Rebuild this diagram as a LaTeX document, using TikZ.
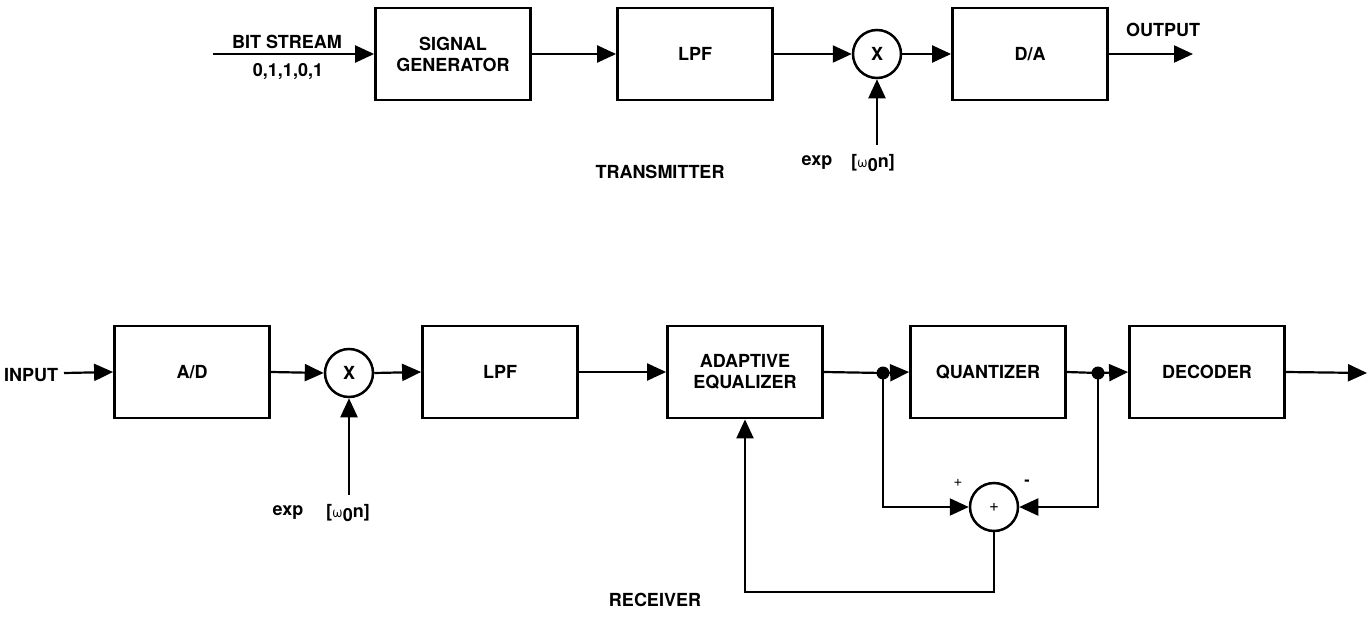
\documentclass[tikz,border=0pt]{standalone}
\usepackage{fontspec}
\setmainfont{TeX Gyre Heros}
\usetikzlibrary{arrows.meta}
\begin{document}
\begin{tikzpicture}[x=1pt,y=-1pt,
  txt/.style={font=\bfseries\fontsize{18}{21}\selectfont},
  blk/.style={draw, line width=2.8pt, minimum width=155pt, minimum height=92pt, inner sep=0pt, txt, align=center},
  mix/.style={draw, circle, line width=2.5pt, minimum size=48pt, inner sep=0pt, txt},
  lbl/.style={txt, inner sep=0pt},
  conn/.style={line width=2.2pt},
  arr/.style={conn, -{Triangle[length=19pt,width=17pt]}},
  dot/.style={circle, fill, minimum size=13pt, inner sep=0pt}]
\fill[white] (0,0) rectangle (1371,618);
\useasboundingbox (0,0) rectangle (1371,618);
% ---------- transmitter ----------
\coordinate (bsin) at (213,54);
\node[blk] (sg) at (453,54) {SIGNAL\\GENERATOR};
\node[blk] (lpft) at (695,54) {LPF};
\node[mix] (mxt) at (877,54) {X};
\node[blk] (da) at (1030,54) {D/A};
\coordinate (outt) at (1193,54);
\coordinate (lot) at (877,145);
\draw[arr] (bsin) -- (sg.west);
\draw[arr] (sg.east) -- (lpft.west);
\draw[arr] (lpft.east) -- (mxt.west);
\draw[arr] (mxt.east) -- (da.west);
\draw[arr] (da.east) -- (outt);
\draw[arr] (lot) -- (mxt.south);
\node[lbl] (bst) at (287,42) {BIT STREAM};
\node[lbl] (bsv) at (288,72) {0,1,1,0,1};
\node[lbl] (outlbl) at (1163,30) {OUTPUT};
\node[lbl] (tx) at (660,172) {TRANSMITTER};
\node[lbl] (expt) at (817,163) {exp};
\node[lbl] (wt) at (873,163) {[{\normalfont\fontsize{14}{15}\selectfont ω}\raisebox{-4pt}{0}n]};
% ---------- receiver ----------
\node[lbl, anchor=west] (inlbl) at (4,375) {INPUT};
\coordinate (inb) at (64,373);
\node[blk] (ad) at (192,372) {A/D};
\node[mix] (mxb) at (349,373) {X};
\node[blk] (lpfb) at (500,372) {LPF};
\node[blk] (ae) at (745,372) {ADAPTIVE\\EQUALIZER};
\node[blk] (q) at (988,372) {QUANTIZER};
\node[blk] (dec) at (1207,372) {DECODER};
\coordinate (outb) at (1367,373);
\coordinate (lob) at (349,495);
\node[dot] (d1) at (883,373) {};
\node[dot] (d2) at (1098,373) {};
\node[mix, font=\fontsize{17}{20}\selectfont] (sum) at (994,507) {+};
\draw[arr] (inb) -- (ad.west);
\draw[arr] (ad.east) -- (mxb.west);
\draw[arr] (mxb.east) -- (lpfb.west);
\draw[arr] (lpfb.east) -- (ae.west);
\draw[conn] (ae.east) -- (d1.center);
\draw[arr] (d1.center) -- (q.west);
\draw[conn] (q.east) -- (d2.center);
\draw[arr] (d2.center) -- (dec.west);
\draw[arr] (dec.east) -- (outb);
\draw[arr] (lob) -- (mxb.south);
\draw[arr] (d1.center) |- (sum.west);
\draw[arr] (d2.center) |- (sum.east);
\draw[arr] (sum.south) -- ++(0,60) -| (ae.south);
\node[font=\fontsize{15}{16}\selectfont, inner sep=0pt] (plus) at (958,483) {+};
\node[font=\bfseries\fontsize{16}{16}\selectfont, inner sep=0pt] (minus) at (1027,483) {-};
\node[lbl] (expb) at (288,513) {exp};
\node[lbl] (wb) at (348,513) {[{\normalfont\fontsize{14}{15}\selectfont ω}\raisebox{-4pt}{0}n]};
\node[lbl] (rx) at (655,600) {RECEIVER};
\end{tikzpicture}
\end{document}
